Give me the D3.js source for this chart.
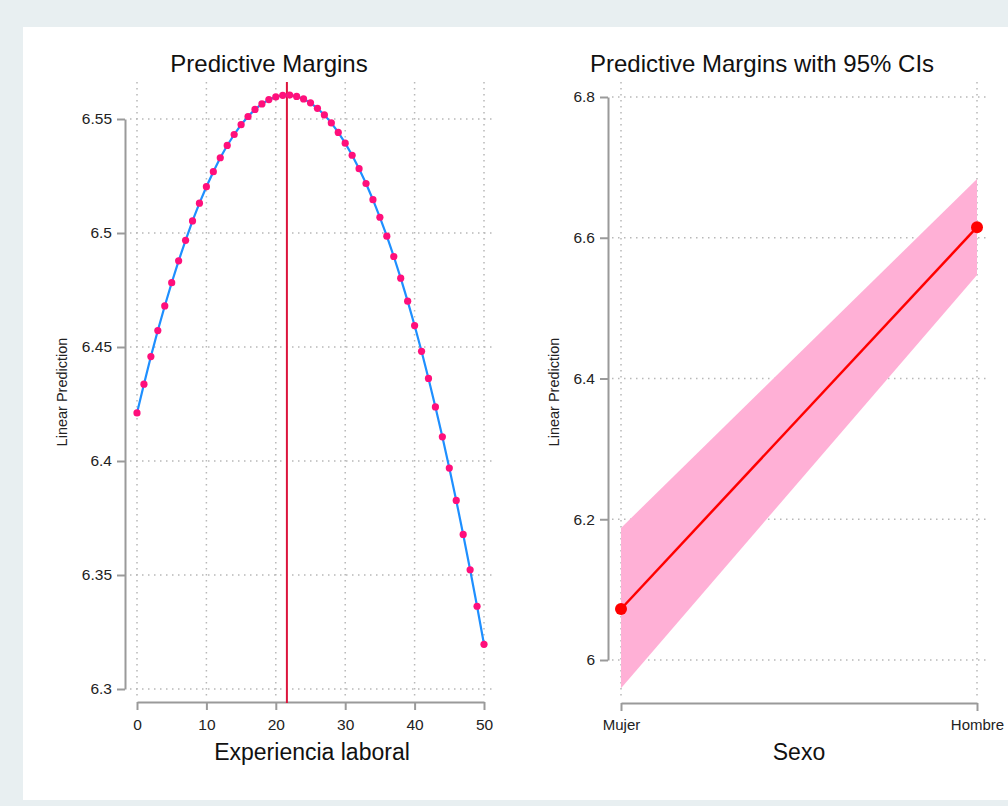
<!DOCTYPE html>
<html><head><meta charset="utf-8">
<script src="https://cdn.jsdelivr.net/npm/d3@7"></script>
<style>
html,body{margin:0;padding:0;background:#e8eff1;}
svg{display:block;font-family:"Liberation Sans",Arial,Helvetica,sans-serif;}
</style></head><body>
<svg id="c" width="1008" height="806"></svg>
<script>
// ---- Data ----
const experiencia = d3.range(0, 51);
const prediccion = [6.4211,6.4337,6.4458,6.4572,6.4680,6.4782,6.4878,6.4968,6.5053,6.5131,
  6.5203,6.5269,6.5330,6.5384,6.5432,6.5475,6.5511,6.5542,6.5566,6.5585,
  6.5597,6.5604,6.5605,6.5599,6.5588,6.5571,6.5547,6.5518,6.5483,6.5441,
  6.5394,6.5341,6.5282,6.5217,6.5146,6.5069,6.4986,6.4897,6.4802,6.4701,
  6.4594,6.4481,6.4362,6.4237,6.4106,6.3969,6.3827,6.3678,6.3523,6.3363,6.3196];
const picoExperiencia = 21.6;
const xTicksLeft = [0,10,20,30,40,50];
const yTicksLeft = [6.3,6.35,6.4,6.45,6.5,6.55];

const sexo = ["Mujer","Hombre"];
const margen = [6.0725, 6.615];
const ciLow = [5.960, 6.547];
const ciHigh = [6.1876, 6.6835];
const yTicksRight = [6, 6.2, 6.4, 6.6, 6.8];

const svg = d3.select("#c");
svg.append("rect").attr("x",23).attr("y",27).attr("width",985).attr("height",773).attr("fill","#fff");

const gridColor = "#b8b8b8", axisColor = "#9a9a9a";
function dotted(sel){ return sel.attr("stroke",gridColor).attr("stroke-width",1.5).attr("stroke-dasharray","1.5,4.5"); }

// ---- Left panel ----
const xL = d3.scaleLinear().domain([0,50]).range([137,484]);
const yL = d3.scaleLinear().domain([6.3,6.55]).range([689,119]);
const gL = svg.append("g");
xTicksLeft.forEach(t=>{ dotted(gL.append("line").attr("x1",xL(t)).attr("x2",xL(t)).attr("y1",82).attr("y2",699)); });
yTicksLeft.forEach(t=>{ dotted(gL.append("line").attr("x1",130).attr("x2",493).attr("y1",yL(t)).attr("y2",yL(t))); });

const axYL = gL.append("g").attr("transform","translate(125,0)")
  .call(d3.axisLeft(yL).tickValues(yTicksLeft).tickFormat(d3.format("~g")).tickSize(8).tickSizeOuter(0).tickPadding(5));
const axXL = gL.append("g").attr("transform","translate(0,702)")
  .call(d3.axisBottom(xL).tickValues(xTicksLeft).tickSize(8).tickSizeOuter(0).tickPadding(9));
[axYL,axXL].forEach(a=>{ a.selectAll("path,line").attr("stroke",axisColor).attr("stroke-width",2);
  a.selectAll("text").attr("fill","#222").attr("font-size",15.5).attr("font-family","Liberation Sans, Arial, sans-serif"); });

gL.append("line").attr("x1",xL(picoExperiencia)).attr("x2",xL(picoExperiencia)).attr("y1",82).attr("y2",703)
  .attr("stroke","#dc143c").attr("stroke-width",2);
gL.append("path").datum(experiencia)
  .attr("d", d3.line().x(d=>xL(d)).y((d,i)=>yL(prediccion[i])))
  .attr("fill","none").attr("stroke","#1e8fff").attr("stroke-width",2.2);
gL.selectAll("circle.p").data(experiencia).enter().append("circle")
  .attr("cx",d=>xL(d)).attr("cy",(d,i)=>yL(prediccion[i])).attr("r",3.6).attr("fill","#ff0f7b");

gL.append("text").attr("x",269).attr("y",72).attr("text-anchor","middle").attr("font-size",24).attr("fill","#111").text("Predictive Margins");
gL.append("text").attr("x",312).attr("y",760).attr("text-anchor","middle").attr("font-size",23).attr("fill","#111").text("Experiencia laboral");
gL.append("text").attr("transform","translate(67,392) rotate(-90)").attr("text-anchor","middle").attr("font-size",14.5).attr("fill","#222").text("Linear Prediction");

// ---- Right panel ----
const xR = d3.scalePoint().domain(sexo).range([621,977]);
const yR = d3.scaleLinear().domain([6,6.8]).range([660,97]);
const gR = svg.append("g");
sexo.forEach(s=>{ dotted(gR.append("line").attr("x1",xR(s)).attr("x2",xR(s)).attr("y1",82).attr("y2",699)); });
yTicksRight.forEach(t=>{ dotted(gR.append("line").attr("x1",612).attr("x2",988).attr("y1",yR(t)).attr("y2",yR(t))); });

gR.append("path").datum(sexo)
  .attr("d", d3.area().x(d=>xR(d)).y0((d,i)=>yR(ciLow[i])).y1((d,i)=>yR(ciHigh[i])))
  .attr("fill","#ffb0d6");
gR.append("path").datum(sexo)
  .attr("d", d3.line().x(d=>xR(d)).y((d,i)=>yR(margen[i])))
  .attr("fill","none").attr("stroke","#ff0000").attr("stroke-width",2.5);
gR.selectAll("circle.m").data(sexo).enter().append("circle")
  .attr("cx",d=>xR(d)).attr("cy",(d,i)=>yR(margen[i])).attr("r",6).attr("fill","#ff0000");

const axYR = gR.append("g").attr("transform","translate(608,0)")
  .call(d3.axisLeft(yR).tickValues(yTicksRight).tickFormat(d3.format("~g")).tickSize(8).tickSizeOuter(0).tickPadding(5));
const axXR = gR.append("g").attr("transform","translate(0,703)")
  .call(d3.axisBottom(xR).tickSize(8).tickSizeOuter(0).tickPadding(8));
[axYR,axXR].forEach(a=>{ a.selectAll("path,line").attr("stroke",axisColor).attr("stroke-width",2);
  a.selectAll("text").attr("fill","#222").attr("font-family","Liberation Sans, Arial, sans-serif"); });
axYR.selectAll("text").attr("font-size",15.5);
axXR.selectAll("text").attr("font-size",15);

gR.append("text").attr("x",762).attr("y",72).attr("text-anchor","middle").attr("font-size",24).attr("fill","#111").text("Predictive Margins with 95% CIs");
gR.append("text").attr("x",799).attr("y",760).attr("text-anchor","middle").attr("font-size",23).attr("fill","#111").text("Sexo");
gR.append("text").attr("transform","translate(559,392) rotate(-90)").attr("text-anchor","middle").attr("font-size",14.5).attr("fill","#222").text("Linear Prediction");
</script>
</body></html>
